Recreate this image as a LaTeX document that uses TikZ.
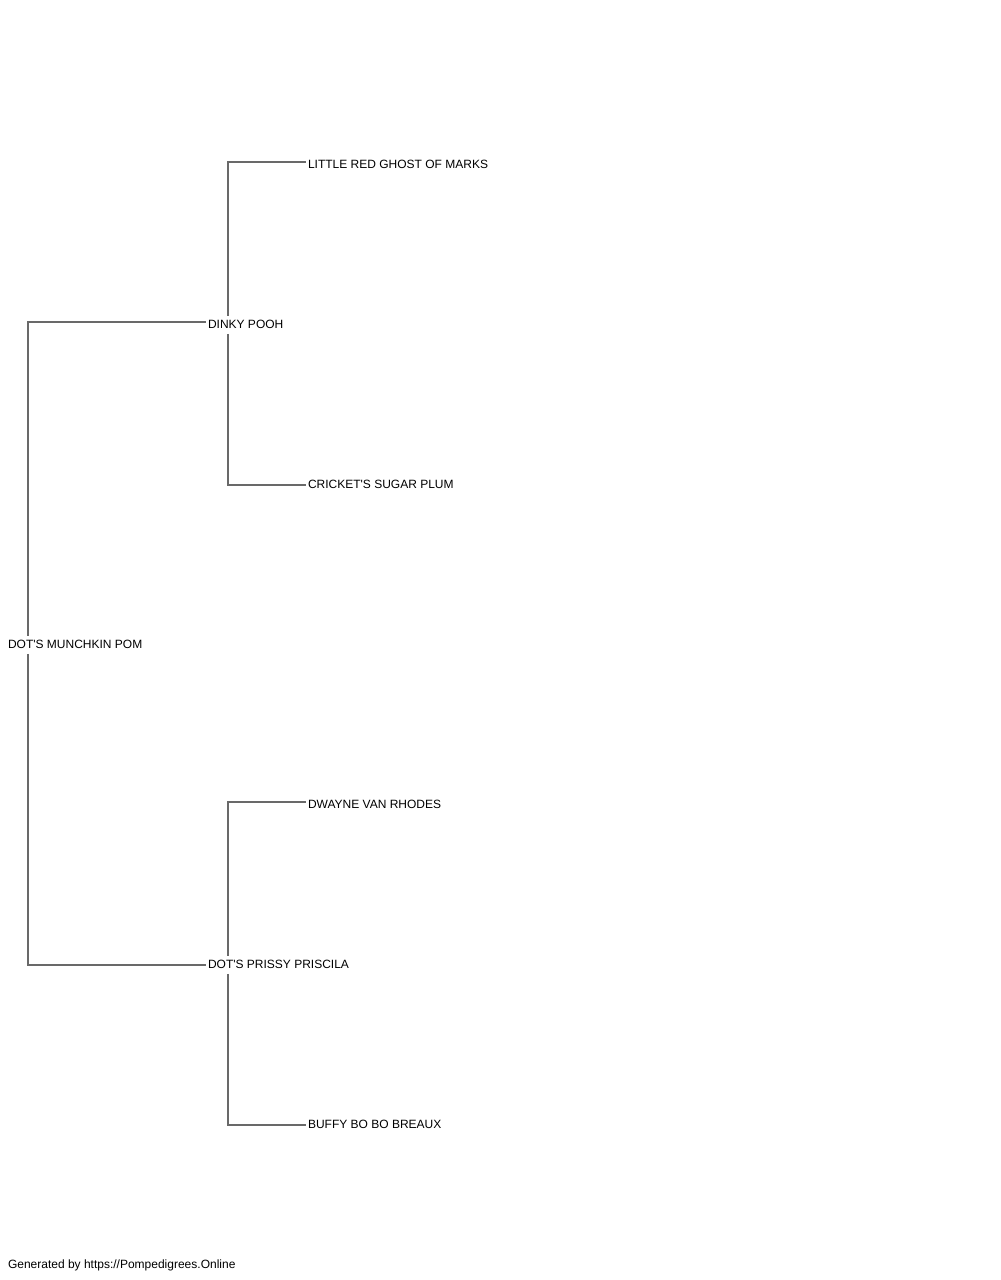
\documentclass[tikz,border=0pt]{standalone}
\usepackage{fontspec}
\setmainfont{Liberation Sans}
\definecolor{linegray}{RGB}{105,105,105}
\begin{document}
\begin{tikzpicture}[x=0.75pt,y=-0.75pt,
  dogname/.style={anchor=base west, inner sep=0pt, outer xsep=1.5pt, outer ysep=0pt,
    text height=9.4pt, text depth=4.1pt, font=\fontsize{9}{10}\selectfont, text=black},
  link/.style={draw=linegray, line width=0.8pt}]
\useasboundingbox (0,0) rectangle (1000,1280);
% nodes
\node[dogname] (r)  at (6,648.5)   {DOT\textquotesingle S MUNCHKIN POM};
\node[dogname] (dp) at (206,328.5) {DINKY POOH};
\node[dogname] (pp) at (206,968.5) {DOT\textquotesingle S PRISSY PRISCILA};
\node[dogname] (lr) at (306,168.5) {LITTLE RED GHOST OF MARKS};
\node[dogname] (cs) at (306,488.5) {CRICKET\textquotesingle S SUGAR PLUM};
\node[dogname] (dv) at (306,808.5) {DWAYNE VAN RHODES};
\node[dogname] (bb) at (306,1128.5) {BUFFY BO BO BREAUX};
\node[dogname] (ft) at (6,1268.5) {Generated by https://Pompedigrees.Online};
% corners
\coordinate (a) at (28,322);
\coordinate (b) at (28,965);
\coordinate (c) at (228,162);
\coordinate (d) at (228,485);
\coordinate (e) at (228,802);
\coordinate (f) at (228,1125);
% connectors
\draw[link] (r.north -| a) -- (a) -- (a -| dp.west);
\draw[link] (r.south -| b) -- (b) -- (b -| pp.west);
\draw[link] (dp.north -| c) -- (c) -- (c -| lr.west);
\draw[link] (dp.south -| d) -- (d) -- (d -| cs.west);
\draw[link] (pp.north -| e) -- (e) -- (e -| dv.west);
\draw[link] (pp.south -| f) -- (f) -- (f -| bb.west);
\end{tikzpicture}
\end{document}
